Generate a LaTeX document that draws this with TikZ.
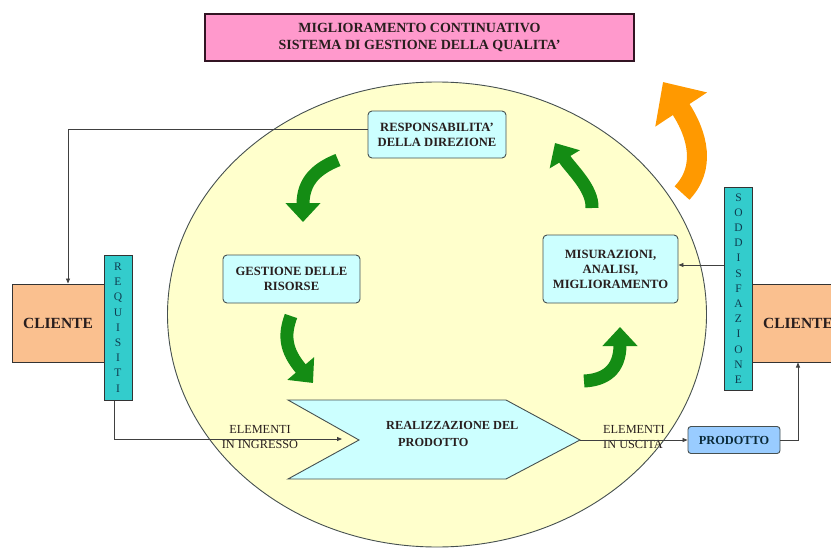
\documentclass[tikz,border=0pt]{standalone}
\usepackage{fontspec}
\setmainfont{Liberation Serif}
\usetikzlibrary{arrows.meta,shapes.geometric,calc}
\definecolor{sgq_rosa}{RGB}{255, 153, 204}
\definecolor{sgq_giallo}{RGB}{255, 255, 204}
\definecolor{sgq_celeste}{RGB}{204, 255, 255}
\definecolor{sgq_blu}{RGB}{153, 204, 255}
\definecolor{sgq_pesca}{RGB}{250, 192, 143}
\definecolor{sgq_turchese}{RGB}{51, 204, 204}
\definecolor{sgq_verde}{RGB}{20, 140, 20}
\definecolor{sgq_arancio}{RGB}{255, 153, 0}
\definecolor{sgq_bordo}{RGB}{70, 80, 80}
\definecolor{sgq_scuro}{RGB}{50, 20, 35}
\definecolor{sgq_testo}{RGB}{40, 30, 30}
\definecolor{sgq_lettere}{RGB}{15, 60, 80}
\tikzstyle{ciclo}=[ellipse,fill=sgq_giallo,draw=sgq_bordo,line width=0.9pt,
  inner sep=0pt,minimum width=539pt,minimum height=465pt]
\tikzstyle{titolo}=[rectangle,fill=sgq_rosa,draw=sgq_scuro,line width=1.3pt,
  minimum width=429pt,minimum height=47pt,align=center,text=sgq_testo,
  font=\bfseries\fontsize{14}{17}\selectfont]
\tikzstyle{riquadro}=[rectangle,rounded corners=4pt,fill=sgq_celeste,draw=sgq_bordo,
  line width=0.9pt,align=center,inner sep=2pt,text=sgq_testo,
  font=\bfseries\fontsize{12.6}{15}\selectfont]
\tikzstyle{prodotto}=[rectangle,rounded corners=3pt,fill=sgq_blu,draw=sgq_bordo,
  line width=0.9pt,inner sep=2pt,minimum width=92pt,minimum height=27pt,
  text=sgq_lettere!70!black,font=\bfseries\fontsize{12.3}{15}\selectfont]
\tikzstyle{cliente}=[rectangle,fill=sgq_pesca,draw=black!80,line width=1pt,
  minimum width=92pt,minimum height=78pt,text=sgq_testo,
  font=\bfseries\fontsize{15.5}{18}\selectfont]
\tikzstyle{barra}=[rectangle,fill=sgq_turchese,draw=black!80,line width=1pt,
  minimum width=28pt,inner sep=0pt,align=center,text=sgq_lettere,
  font=\fontsize{11.5}{15.2}\selectfont]
\tikzstyle{nota}=[inner sep=0pt,text=sgq_testo,font=\fontsize{12.3}{15}\selectfont]
\tikzstyle{freccia}=[draw=black!75,line width=0.8pt,-{Triangle[length=5pt,width=4pt]}]
\tikzstyle{giro}=[draw=sgq_verde,line width=13pt,-{Triangle[length=19pt,width=34pt]}]
\tikzstyle{svolta}=[draw=sgq_arancio,line width=20pt,-{Triangle[length=33pt,width=60pt]}]

\begin{document}
\begin{tikzpicture}[x=1pt, y=-1pt]
    \useasboundingbox (0, 0) rectangle (831, 549);
    \clip (0, 0) rectangle (831, 549);
    \node [style=ciclo] (c) at (437, 314.5) {};
    \node [style=titolo] (t) at (419.5, 37.5) {MIGLIORAMENTO CONTINUATIVO\\SISTEMA DI GESTIONE DELLA QUALITA'};
    \node [style=cliente] (cli1) at (58, 323) {CLIENTE};
    \node [style=cliente, minimum width=106pt] (cli2) at (798, 323) {CLIENTE};
    \node [style=barra, minimum height=145pt] (req) at (118, 327.5) {R\\E\\Q\\U\\I\\S\\I\\T\\I};
    \node [style=barra, minimum height=203pt] (sod) at (738.5, 288.5) {S\\O\\D\\D\\I\\S\\F\\A\\Z\\I\\O\\N\\E};
    \node [style=riquadro, minimum width=138pt, minimum height=47pt] (resp) at (437, 134.5) {RESPONSABILITA'\\DELLA DIREZIONE};
    \node [style=riquadro, minimum width=137pt, minimum height=48pt] (gest) at (291.5, 279) {GESTIONE DELLE\\RISORSE};
    \node [style=riquadro, minimum width=135pt, minimum height=68pt] (mis) at (610.5, 269) {MISURAZIONI,\\ANALISI,\\MIGLIORAMENTO};
    \node [style=prodotto] (prod) at (734, 440) {PRODOTTO};
    % realizzazione del prodotto
    \coordinate (n) at (359, 440);
    \coordinate (p) at (580, 440);
    \coordinate (ingresso) at (342, 439);
    \draw [fill=sgq_celeste, draw=sgq_bordo, line width=0.9pt] (288, 400) -- (506, 400) -- (p)
      -- (506, 479) -- (288, 479) -- (n) -- cycle;
    \node [style=nota, anchor=west, align=left, font=\bfseries\fontsize{12.3}{17}\selectfont] (real) at (386, 434) {REALIZZAZIONE DEL\\\hspace*{12pt}PRODOTTO};
    \node [style=nota, align=center] (ei) at (260, 437.5) {ELEMENTI\\IN INGRESSO};
    \node [style=nota, anchor=west, align=left] (eu) at (603, 437) {ELEMENTI\\IN USCITA};
    % connettori
    \coordinate (m) at ([yshift=4pt]mis.east);
    \draw [style=freccia] ([yshift=5pt]resp.west) -| ([xshift=10pt]cli1.north);
    \draw [style=freccia] ([xshift=-4pt]req.south) |- (ingresso);
    \draw [style=freccia] (p) to (prod.west);
    \draw [style=freccia] (prod.east) -| (cli2.south);
    \draw [style=freccia] (m -| sod.west) to (m);
    % frecce del ciclo
    \draw [style=giro] (338, 160) .. controls (318, 168) and (303, 180) .. (303, 222);
    \draw [style=giro] (291, 316) .. controls (284, 335) and (285, 350) .. (313, 383);
    \draw [style=giro] (584, 381) .. controls (605, 380) and (620, 370) .. (620, 327);
    \draw [style=giro] (592, 208) .. controls (593, 188) and (570, 168) .. (555, 143);
    \draw [style=svolta] (682, 193) .. controls (706, 168) and (698, 135) .. (663, 82);
  \end{tikzpicture}
\end{document}
